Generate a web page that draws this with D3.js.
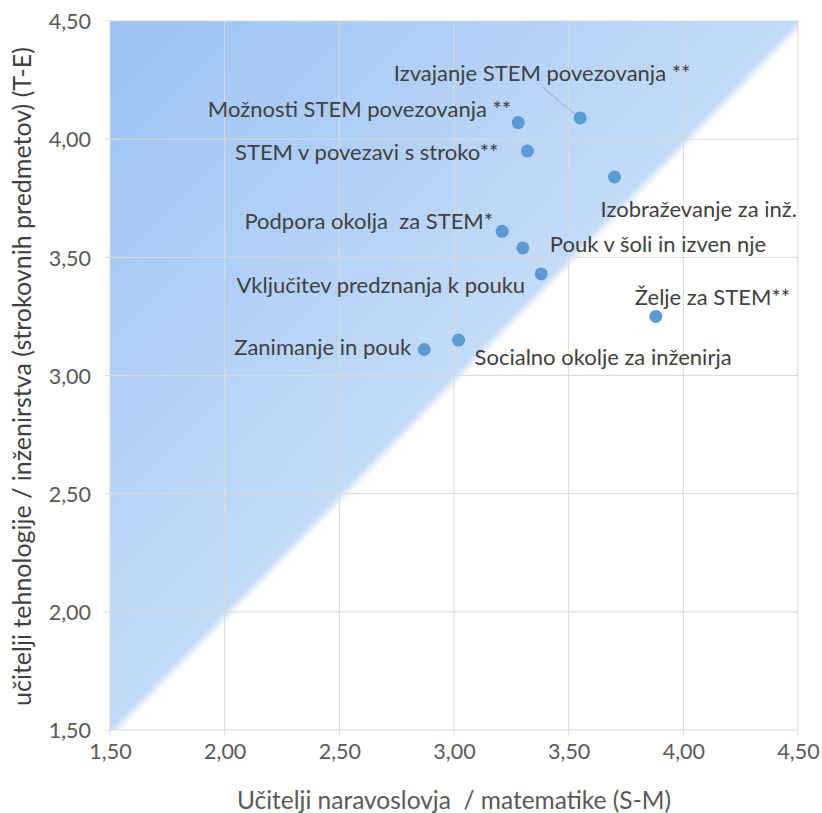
<!DOCTYPE html>
<html>
<head>
<meta charset="utf-8">
<script src="https://cdn.jsdelivr.net/npm/d3@7"></script>
<style>
  body { margin: 0; background: #fff; }
  text { font-family: Lato, "Open Sans", sans-serif; }
</style>
</head>
<body>
<script>
// data
var labels = [
  "Izvajanje STEM povezovanja **",
  "Možnosti STEM povezovanja **",
  "STEM v povezavi s stroko**",
  "Izobraževanje za inž.",
  "Podpora okolja  za STEM*",
  "Pouk v šoli in izven nje",
  "Vključitev predznanja k pouku",
  "Želje za STEM**",
  "Zanimanje in pouk",
  "Socialno okolje za inženirja"
];
var smValues = [3.55, 3.28, 3.32, 3.70, 3.21, 3.30, 3.38, 3.88, 2.87, 3.02];
var teValues = [4.09, 4.07, 3.95, 3.84, 3.61, 3.54, 3.43, 3.25, 3.11, 3.15];
var ticks = [1.5, 2.0, 2.5, 3.0, 3.5, 4.0, 4.5];

// label placement relative to the point: anchor, dx, dy
var labelPos = [
  ["middle", -38, -37],
  ["end", -7, -6],
  ["end", -29, 9],
  ["start", -14, 40],
  ["end", -9, -2],
  ["start", 27, 4],
  ["end", -16, 19],
  ["start", -21, -11],
  ["end", -13, 5],
  ["start", 16, 25]
];

var W = 822, H = 813;
var m = {left: 110, right: 24, top: 21, bottom: 83};

var svg = d3.select("body").append("svg")
  .attr("width", W)
  .attr("height", H);

var x = d3.scaleLinear().domain([1.5, 4.5]).range([m.left, W - m.right]);
var y = d3.scaleLinear().domain([1.5, 4.5]).range([H - m.bottom, m.top]);

var fmt = function(d) { return d3.format(".2f")(d).replace(".", ","); };

// gradient runs across the diagonal (1.5,1.5)-(4.5,4.5)
var x0 = x(1.5), x1 = x(4.5), y0 = y(4.5), y1 = y(1.5);
var ux = (y1 - y0), uy = (x1 - x0);
var ul = Math.sqrt(ux * ux + uy * uy);
ux /= ul; uy /= ul;
var proj = ((x0 + x1) / 2 - x0) * ux + ((y0 + y1) / 2 - y0) * uy;

var grad = svg.append("defs").append("linearGradient")
  .attr("id", "bg")
  .attr("gradientUnits", "userSpaceOnUse")
  .attr("x1", x0).attr("y1", y0)
  .attr("x2", x0 + 2 * proj * ux).attr("y2", y0 + 2 * proj * uy);
grad.append("stop").attr("offset", 0).attr("stop-color", "#9bc2f4");
grad.append("stop").attr("offset", 0.499).attr("stop-color", "#c4dbf7");
grad.append("stop").attr("offset", 0.509).attr("stop-color", "#ffffff");
grad.append("stop").attr("offset", 1).attr("stop-color", "#ffffff");

svg.append("rect")
  .attr("x", x0).attr("y", y0)
  .attr("width", x1 - x0)
  .attr("height", y1 - y0)
  .attr("fill", "url(#bg)");

// grid
var grid = svg.append("g");
grid.selectAll(".vx").data(ticks).enter().append("line")
  .attr("x1", d => x(d)).attr("x2", d => x(d))
  .attr("y1", y(4.5)).attr("y2", y(1.5) + 5)
  .attr("stroke", "#d9d9d9").attr("stroke-width", 1);
grid.selectAll(".hy").data(ticks).enter().append("line")
  .attr("x1", x(1.5) - 5).attr("x2", x(4.5))
  .attr("y1", d => y(d)).attr("y2", d => y(d))
  .attr("stroke", "#d9d9d9").attr("stroke-width", 1);

// axes labels
var xAxis = svg.append("g")
  .attr("transform", "translate(0," + y(1.5) + ")")
  .call(d3.axisBottom(x).tickValues(ticks).tickFormat(fmt).tickSize(0).tickPadding(29));
var yAxis = svg.append("g")
  .attr("transform", "translate(" + x(1.5) + ",0)")
  .call(d3.axisLeft(y).tickValues(ticks).tickFormat(fmt).tickSize(0).tickPadding(19));
[xAxis, yAxis].forEach(function(a) {
  a.select(".domain").remove();
  a.selectAll("text")
    .attr("fill", "#595959")
    .style("font-size", "21.5px");
});
xAxis.selectAll("text").attr("dy", "0");
yAxis.selectAll("text").attr("dy", "0.36em");

// axis titles
svg.append("text")
  .attr("x", (x(1.5) + x(4.5)) / 2)
  .attr("y", 809)
  .attr("text-anchor", "middle")
  .attr("fill", "#595959")
  .style("font-size", "24.5px")
  .style("white-space", "pre")
  .text("Učitelji naravoslovja  / matematike (S-M)");

svg.append("text")
  .attr("transform", "translate(31," + (y(3) + 1) + ") rotate(-90)")
  .attr("text-anchor", "middle")
  .attr("fill", "#404040")
  .style("font-size", "25px")
  .text("učitelji tehnologije / inženirstva (strokovnih predmetov) (T-E)");

// leader line for first label
svg.append("line")
  .attr("x1", x(smValues[0]) - 38).attr("y1", y(teValues[0]) - 31)
  .attr("x2", x(smValues[0]) - 3).attr("y2", y(teValues[0]) - 2)
  .attr("stroke", "#a6a6a6").attr("stroke-width", 1);

// points
svg.selectAll(".pt").data(smValues).enter().append("circle")
  .attr("cx", d => x(d))
  .attr("cy", (d, i) => y(teValues[i]))
  .attr("r", 6.5)
  .attr("fill", "#5b9bd5");

// data labels
svg.selectAll(".lbl").data(labels).enter().append("text")
  .attr("x", (d, i) => x(smValues[i]) + labelPos[i][1])
  .attr("y", (d, i) => y(teValues[i]) + labelPos[i][2])
  .attr("text-anchor", (d, i) => labelPos[i][0])
  .attr("fill", "#404040")
  .style("font-size", "22px")
  .style("white-space", "pre")
  .text(d => d);
</script>
</body>
</html>
